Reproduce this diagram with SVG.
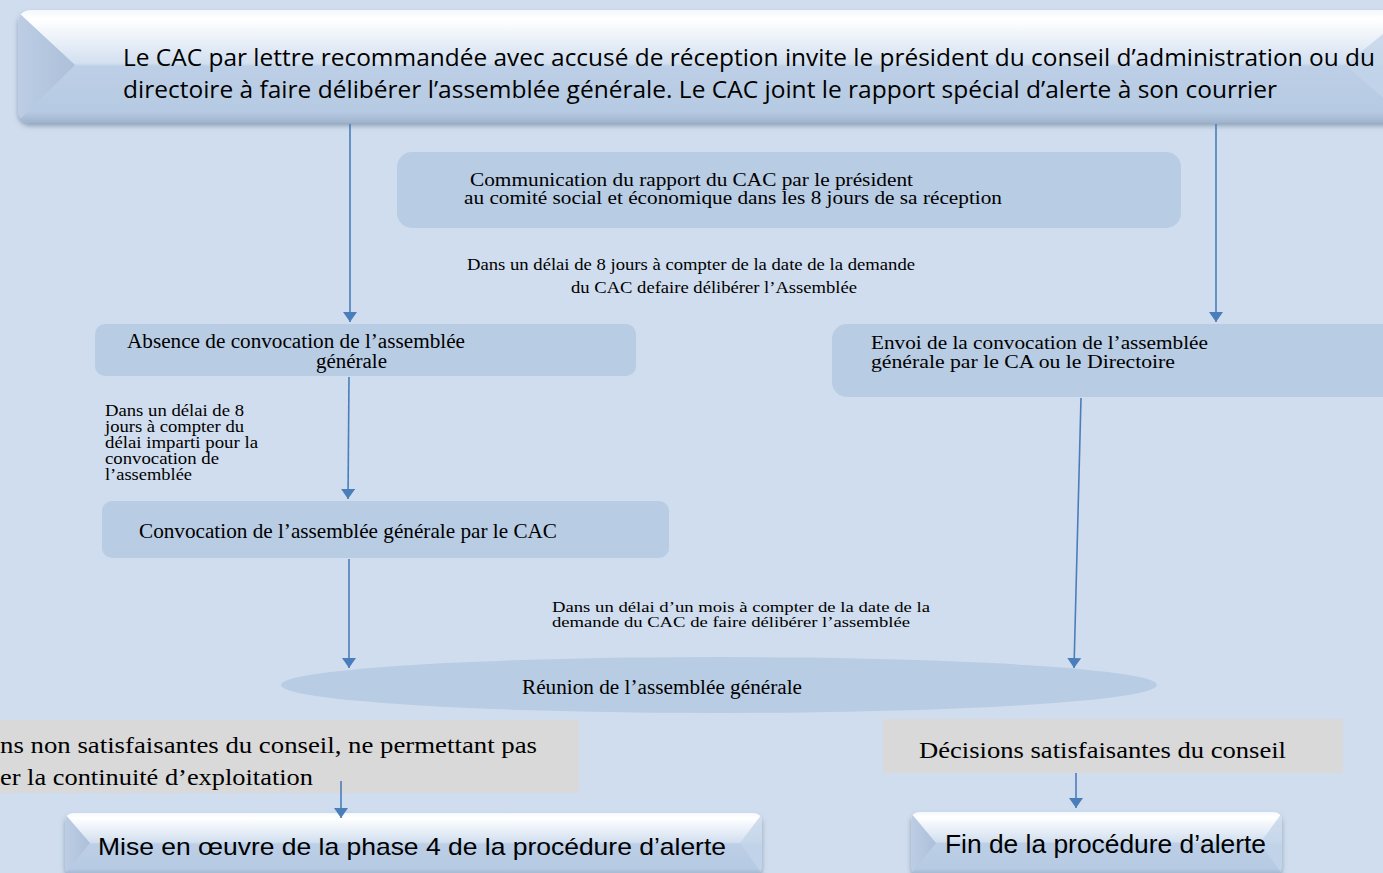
<svg xmlns="http://www.w3.org/2000/svg" width="1383" height="873" viewBox="0 0 1383 873">
<defs>
<style>
.node{fill:#b8cce4}
.gray{fill:#d9d9d9}
.tr{font-family:"Liberation Serif","Times New Roman",serif;fill:#000}
.cal{font-family:"Open Sans","Noto Sans",sans-serif;fill:#000}
.ar{font-family:"Liberation Sans",Arial,sans-serif;fill:#000}
.conn{stroke:#4a7ebb;stroke-width:1.6;fill:none;marker-end:url(#ah)}
.bface{fill:url(#face)}
.bleft{fill:url(#leftb)}
.bright{fill:#c3d4e9;opacity:0.8}
</style>
<marker id="ah" viewBox="0 0 10 14" refX="10" refY="7" markerWidth="10" markerHeight="14" markerUnits="userSpaceOnUse" orient="auto">
<path d="M0,0 L10,7 L0,14 Z" fill="#4a7ebb"/>
</marker>
<linearGradient id="face" x1="0" y1="0" x2="0" y2="1">
<stop offset="0" stop-color="#f4f8fc"/>
<stop offset="0.08" stop-color="#ffffff"/>
<stop offset="0.47" stop-color="#d3e0f0"/>
<stop offset="0.5" stop-color="#bccfe6"/>
<stop offset="0.9" stop-color="#b6cae3"/>
<stop offset="1" stop-color="#9fb3cd"/>
</linearGradient>
<linearGradient id="leftb" x1="0" y1="0" x2="1" y2="0">
<stop offset="0" stop-color="#bccde4"/>
<stop offset="1" stop-color="#adc0d9"/>
</linearGradient>
<filter id="sh" x="-5%" y="-10%" width="110%" height="140%">
<feDropShadow dx="0" dy="3" stdDeviation="2.5" flood-color="#5a6f8a" flood-opacity="0.55"/>
</filter>
<clipPath id="cTop"><rect x="18" y="10" width="1400" height="113" rx="12"/></clipPath>
<clipPath id="cP4"><rect x="65" y="813" width="697" height="62" rx="8"/></clipPath>
<clipPath id="cFin"><rect x="911" y="812" width="371" height="63" rx="8"/></clipPath>
</defs>
<rect width="1383" height="873" fill="#d0ddee"/>

<g id="n-top">
<rect x="18" y="10" width="1400" height="113" rx="12" fill="#b6cae3" filter="url(#sh)"/>
<g clip-path="url(#cTop)">
<rect class="bface" x="18" y="10" width="1400" height="113"/>
<polygon class="bleft" points="18,12 75,65 18,121"/>
<polygon class="bright" points="1410,12 1345,65 1410,121"/>
</g>
<text class="cal" font-size="23" x="123" y="66" textLength="1252" lengthAdjust="spacingAndGlyphs">Le CAC par lettre recommandée avec accusé de réception invite le président du conseil d’administration ou du</text>
<text class="cal" font-size="23" x="123" y="98" textLength="1154" lengthAdjust="spacingAndGlyphs">directoire à faire délibérer l’assemblée générale. Le CAC joint le rapport spécial d’alerte à son courrier</text>
</g>

<g id="n-comm">
<rect class="node" x="397" y="152" width="784" height="76" rx="15"/>
<text class="tr" font-size="18" x="470" y="186" textLength="443" lengthAdjust="spacingAndGlyphs">Communication du rapport du CAC par le président</text>
<text class="tr" font-size="18" x="464" y="204" textLength="538" lengthAdjust="spacingAndGlyphs">au comité social et économique dans les 8 jours de sa réception</text>
</g>

<g id="lbl-8jours">
<text class="tr" font-size="17" x="467" y="270" textLength="448" lengthAdjust="spacingAndGlyphs">Dans un délai de 8 jours à compter de la date de la demande</text>
<text class="tr" font-size="17" x="571" y="293" textLength="286" lengthAdjust="spacingAndGlyphs">du CAC defaire délibérer l’Assemblée</text>
</g>

<g id="n-absence">
<rect class="node" x="95" y="324" width="541" height="52" rx="10"/>
<text class="tr" font-size="20" x="127" y="348" textLength="338" lengthAdjust="spacingAndGlyphs">Absence de convocation de l’assemblée</text>
<text class="tr" font-size="20" x="316" y="368" textLength="71" lengthAdjust="spacingAndGlyphs">générale</text>
</g>

<g id="n-envoi">
<rect class="node" x="832" y="324" width="570" height="73" rx="15"/>
<text class="tr" font-size="19" x="871" y="349" textLength="337" lengthAdjust="spacingAndGlyphs">Envoi de la convocation de l’assemblée</text>
<text class="tr" font-size="19" x="871" y="368" textLength="304" lengthAdjust="spacingAndGlyphs">générale par le CA ou le  Directoire</text>
</g>

<g id="lbl-delai">
<text class="tr" font-size="16" x="105" y="416" textLength="139" lengthAdjust="spacingAndGlyphs">Dans un délai de 8</text>
<text class="tr" font-size="16" x="105" y="432" textLength="139" lengthAdjust="spacingAndGlyphs">jours à compter du</text>
<text class="tr" font-size="16" x="105" y="448" textLength="153" lengthAdjust="spacingAndGlyphs">délai imparti pour la</text>
<text class="tr" font-size="16" x="105" y="464" textLength="114" lengthAdjust="spacingAndGlyphs">convocation de</text>
<text class="tr" font-size="16" x="105" y="480" textLength="87" lengthAdjust="spacingAndGlyphs">l’assemblée</text>
</g>

<g id="n-convcac">
<rect class="node" x="102" y="501" width="567" height="57" rx="10"/>
<text class="tr" font-size="21" x="139" y="538" textLength="418" lengthAdjust="spacingAndGlyphs">Convocation de l’assemblée générale par le CAC</text>
</g>

<g id="lbl-mois">
<text class="tr" font-size="15" x="552" y="612" textLength="378" lengthAdjust="spacingAndGlyphs">Dans un délai d’un mois à compter de la date de la</text>
<text class="tr" font-size="15" x="552" y="627" textLength="358" lengthAdjust="spacingAndGlyphs">demande du CAC de faire délibérer l’assemblée</text>
</g>

<g id="n-reunion">
<ellipse class="node" cx="719" cy="685" rx="438" ry="28"/>
<text class="tr" font-size="20" x="522" y="694" textLength="280" lengthAdjust="spacingAndGlyphs">Réunion de l’assemblée générale</text>
</g>

<g id="n-nonsat">
<rect class="gray" x="0" y="720" width="579" height="73"/>
<text class="tr" font-size="23" x="0" y="753" textLength="537" lengthAdjust="spacingAndGlyphs">ns non satisfaisantes du conseil, ne permettant pas</text>
<text class="tr" font-size="23" x="0" y="785" textLength="313" lengthAdjust="spacingAndGlyphs">er la continuité d’exploitation</text>
</g>

<g id="n-sat">
<rect class="gray" x="883" y="719" width="460" height="54"/>
<text class="tr" font-size="24" x="919" y="758" textLength="367" lengthAdjust="spacingAndGlyphs">Décisions satisfaisantes du conseil</text>
</g>

<g id="n-phase4">
<rect x="65" y="813" width="697" height="62" rx="8" fill="#b6cae3" filter="url(#sh)"/>
<g clip-path="url(#cP4)">
<rect class="bface" x="65" y="813" width="697" height="62"/>
<polygon class="bleft" points="65,814 90,843 65,874"/>
<polygon class="bright" points="762,814 740,843 762,874"/>
</g>
<text class="ar" font-size="24" x="98" y="855" textLength="628" lengthAdjust="spacingAndGlyphs">Mise en œuvre de la phase 4 de la procédure d’alerte</text>
</g>

<g id="n-fin">
<rect x="911" y="812" width="371" height="63" rx="8" fill="#b6cae3" filter="url(#sh)"/>
<g clip-path="url(#cFin)">
<rect class="bface" x="911" y="812" width="371" height="63"/>
<polygon class="bleft" points="911,813 936,843 911,874"/>
<polygon class="bright" points="1282,813 1260,843 1282,874"/>
</g>
<text class="ar" font-size="25" x="945" y="853" textLength="321" lengthAdjust="spacingAndGlyphs">Fin de la procédure d’alerte</text>
</g>

<g id="connectors">
<line class="conn" x1="350" y1="124" x2="350" y2="322"/>
<line class="conn" x1="1216" y1="124" x2="1216" y2="322"/>
<line class="conn" x1="349" y1="377" x2="348" y2="499"/>
<line class="conn" x1="349" y1="559" x2="349" y2="668"/>
<line class="conn" x1="1081" y1="398" x2="1074" y2="668"/>
<line class="conn" x1="341" y1="781" x2="341" y2="818"/>
<line class="conn" x1="1076" y1="773" x2="1076" y2="808"/>
</g>
</svg>
